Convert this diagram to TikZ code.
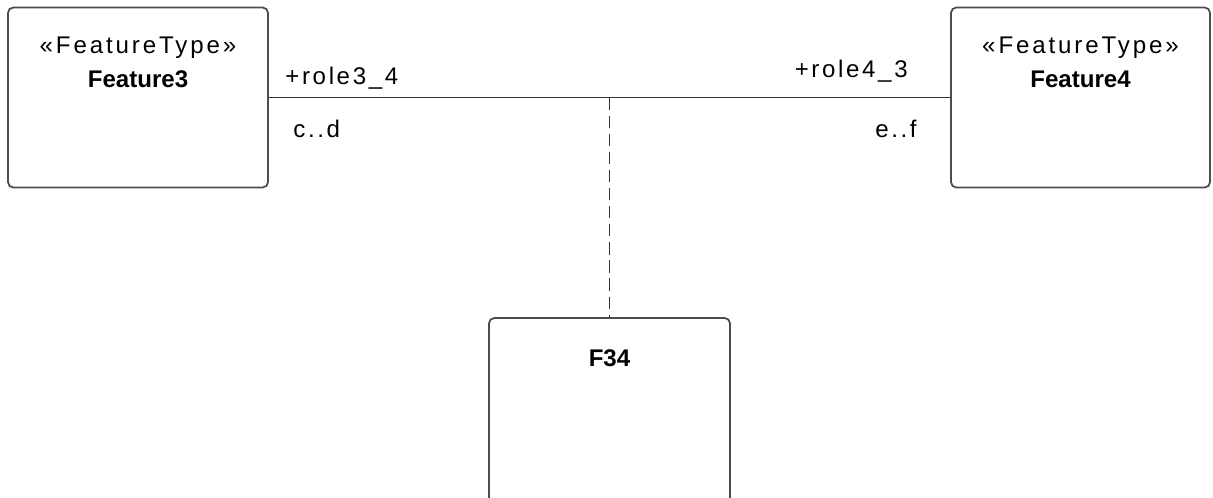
\documentclass[tikz,border=0pt]{standalone}
\usepackage{fontspec}
\setmainfont{Liberation Sans}
\usetikzlibrary{positioning}

\tikzset{
  classbox/.style={draw=black!70, line width=1pt, rounded corners=3pt,
    inner sep=0pt, fill=white},
  stereo/.style={inner sep=0pt,
    font=\fontsize{13.7}{16}\selectfont\addfontfeatures{LetterSpace=12}},
  classname/.style={inner sep=0pt, font=\fontsize{13.7}{16}\selectfont\bfseries},
  rolelabel/.style={inner sep=0pt,
    font=\fontsize{13.7}{16}\selectfont\addfontfeatures{LetterSpace=11}},
  assoc/.style={draw=black!80, line width=1pt},
  assocclass/.style={draw=black!80, line width=1pt, dash pattern=on 7pt off 3.3pt}
}

\begin{document}
\begin{tikzpicture}[x=0.02cm, y=-0.02cm]
    \useasboundingbox (0,0) rectangle (1213,497);

    % the two feature types and the association class
    \node[classbox, minimum width=5.2cm, minimum height=3.6cm] (f3) at (138,97.5) {};
    \node[classbox, minimum width=5.18cm, minimum height=3.6cm] (f4) at (1080.5,97.5) {};
    \node[classbox, minimum width=4.82cm, minimum height=3.8cm] (f34) at (609.5,413) {};

    \node[stereo, anchor=base] (s3) at (138,53) {«FeatureType»};
    \node[classname, anchor=base] (n3) at (138,87) {Feature3};
    \node[stereo, anchor=base] (s4) at (1080.5,53) {«FeatureType»};
    \node[classname, anchor=base] (n4) at (1080.5,87) {Feature4};
    \node[classname, anchor=base] (n34) at (609.5,366) {F34};

    % association, dashed link to F34 from its middle
    \draw[assoc] (f3) -- (f4) coordinate[pos=0.5] (mid);
    \draw[assocclass] (mid) -- (f34);

    % role names and multiplicities
    \node[rolelabel, anchor=base west] (r34) at (285,84) {+role3\_4};
    \node[rolelabel, anchor=base west] (m3) at (293,137) {c..d};
    \node[rolelabel, anchor=base east] (r43) at (908,77) {+role4\_3};
    \node[rolelabel, anchor=base east] (m4) at (917,137) {e..f};
\end{tikzpicture}
\end{document}
